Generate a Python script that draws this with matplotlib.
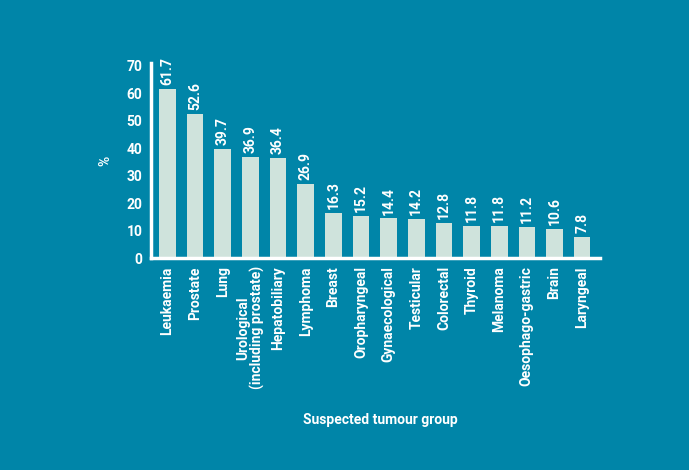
import matplotlib.pyplot as plt

groups = ["Leukaemia", "Prostate", "Lung", "Urological\n(including prostate)",
          "Hepatobiliary", "Lymphoma", "Breast", "Oropharyngeal", "Gynaecological",
          "Testicular", "Colorectal", "Thyroid", "Melanoma", "Oesophago-gastric",
          "Brain", "Laryngeal"]
values = [61.7, 52.6, 39.7, 36.9, 36.4, 26.9, 16.3, 15.2, 14.4, 14.2, 12.8,
          11.8, 11.8, 11.2, 10.6, 7.8]
yticks = [0, 10, 20, 30, 40, 50, 60, 70]

BG = "#0085a8"
BAR = "#cfe3dc"
FONT = ["Roboto", "DejaVu Sans"]
FS = 10

fig = plt.figure(figsize=(6.89, 4.70), dpi=100, facecolor=BG)
ax = fig.add_axes([0.219, 0.451, 0.652, 0.415])
ax.set_facecolor(BG)

x = list(range(len(groups)))
ax.bar(x, values, width=0.6, color=BAR, zorder=2)
for xi, v in zip(x, values):
    ax.text(xi, v + 1.4, f"{v:.1f}", rotation=90, ha="center", va="bottom",
            color="white", fontsize=FS, fontweight="bold", family=FONT)

ax.set_xlim(-0.6, len(groups) - 0.35)
ax.set_ylim(0, 71)
ax.set_yticks(yticks)
ax.set_yticklabels([str(t) for t in yticks], color="white", fontsize=FS,
                   fontweight="bold", family=FONT)
ax.set_xticks(x)
ax.set_xticklabels(groups, rotation=90, color="white", fontsize=FS,
                   fontweight="bold", family=FONT, va="top", ha="center",
                   linespacing=1.0)
ax.tick_params(length=0, pad=6)

for side in ["top", "right"]:
    ax.spines[side].set_visible(False)
for side in ["left", "bottom"]:
    ax.spines[side].set_color("white")
    ax.spines[side].set_linewidth(2.5)

ax.set_ylabel("%", color="white", fontsize=FS, fontweight="bold", family=FONT,
              labelpad=10)
fig.text(0.552, 0.106, "Suspected tumour group", ha="center", va="center",
         color="white", fontsize=FS, fontweight="bold", family=FONT)

fig.savefig("out.png", dpi=100, facecolor=BG)
